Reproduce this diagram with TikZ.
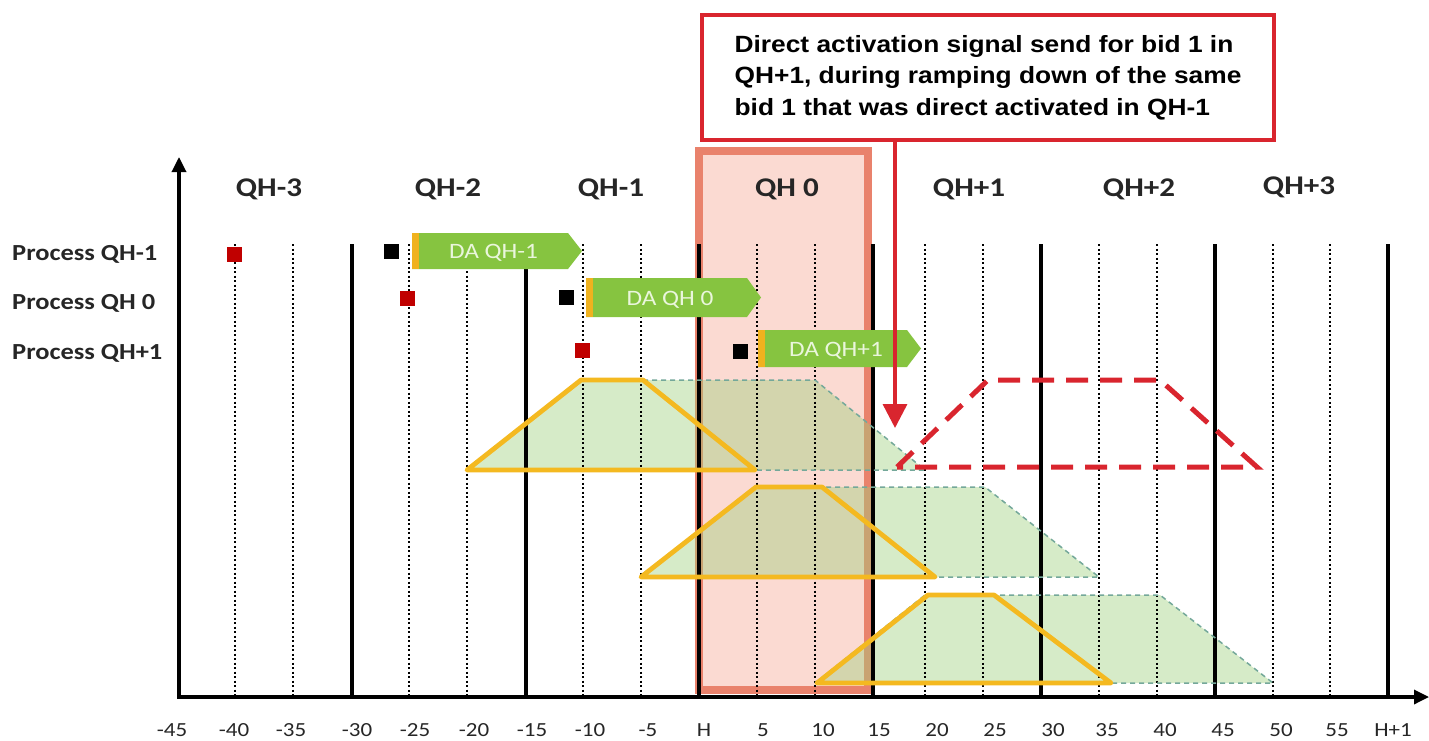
\documentclass[tikz,border=0pt]{standalone}
\usepackage{fontspec}
\setmainfont{Carlito}[FakeStretch=1.15]
\newfontfamily\calloutfont{Liberation Sans}[FakeStretch=1.12]
\usetikzlibrary{arrows.meta}

\definecolor{pinkfill}{HTML}{FBDAD2}
\definecolor{pinkedge}{HTML}{E9826C}
\definecolor{dagreen}{HTML}{86C440}
\definecolor{daorange}{HTML}{F0B21E}
\definecolor{datext}{HTML}{EAF6DC}
\definecolor{rampyellow}{HTML}{F4B920}
\definecolor{rampgreen}{HTML}{9ED07C}
\definecolor{rampedge}{HTML}{74A89A}
\definecolor{sigred}{HTML}{D9252E}
\definecolor{procred}{HTML}{C00000}
\definecolor{labgray}{HTML}{262626}

% green "direct activation" banner with an orange start strip
\newcommand\daarrow[6]{%
  \fill[dagreen] (#2,#4) -- (#3-14,#4) -- (#3,{(#4+#5)/2}) -- (#3-14,#5) -- (#2,#5) -- cycle;
  \fill[daorange] (#2,#4) rectangle (#2+7,#5);
  \node[dalab] (#1) at ({(#2+7+#3-14)/2},{(#4+#5)/2+7.5}) {#6};
}

\begin{document}
\begin{tikzpicture}[x=1pt,y=-1pt,
  gdot/.style={line width=2.6pt, dash pattern=on 2.4pt off 2.1pt, black},
  gsolid/.style={line width=3.3pt, black},
  axisline/.style={line width=3.3pt, black, -{Triangle[length=15pt,width=14pt]}},
  ramparea/.style={fill=rampgreen, fill opacity=0.42},
  rampoutline/.style={rampedge, line width=1.5pt, dash pattern=on 5pt off 4pt},
  ramp/.style={rampyellow, line width=4.8pt, line join=round},
  redramp/.style={sigred, line width=5pt, dash pattern=on 22pt off 12pt},
  sq/.style={minimum size=15pt, inner sep=0pt, draw=none},
  tick/.style={font=\fontsize{20}{21}\selectfont, text=labgray, anchor=base, inner sep=0pt},
  qh/.style={font=\bfseries\fontsize{27}{28}\selectfont, text=labgray, anchor=base, inner sep=0pt},
  rowlab/.style={font=\bfseries\fontsize{23}{24}\selectfont, text=labgray, anchor=base west, inner sep=0pt},
  dalab/.style={font=\fontsize{22}{23}\selectfont, text=datext, anchor=base, inner sep=0pt},
  note/.style={draw=sigred, line width=4pt, fill=white, anchor=north west,
    minimum width=572pt, minimum height=125pt, align=left,
    font=\calloutfont\bfseries\fontsize{23.5}{31.5}\selectfont, text=black},
]
\useasboundingbox (0,0) rectangle (1429,741);

% quarter hour under consideration
\draw[fill=pinkfill, draw=pinkedge, line width=8pt] (699,151) rectangle (868,690);

% available ramp areas of the bids
\fill[ramparea] (467,470) -- (583,380) -- (815,380) -- (925,470) -- cycle;
\fill[ramparea] (641,577) -- (757,487) -- (985,487) -- (1099,577) -- cycle;
\fill[ramparea] (815,683) -- (925,595) -- (1160,595) -- (1273,683) -- cycle;

% time grid, every five minutes
\foreach \x/\kind in {235/gdot, 293/gdot, 352/gsolid, 409/gdot, 467/gdot, 526/gsolid,
  583/gdot, 641/gdot, 699/gsolid, 757/gdot, 815/gdot, 873/gsolid, 925/gdot, 983/gdot,
  1041/gsolid, 1099/gdot, 1157/gdot, 1215/gsolid, 1273/gdot, 1330/gdot, 1388/gsolid}
  \draw[\kind] (\x,244) -- (\x,696);

% outlines of the ramp areas
\draw[rampoutline] (467,470) -- (583,380) -- (815,380) -- (925,470) -- cycle;
\draw[rampoutline] (641,577) -- (757,487) -- (985,487) -- (1099,577) -- cycle;
\draw[rampoutline] (815,683) -- (925,595) -- (1160,595) -- (1273,683) -- cycle;

% activated bids
\draw[ramp] (467,470) -- (581,380) -- (643,380) -- (755,470) -- cycle;
\draw[ramp] (641,577) -- (756,487) -- (822,487) -- (935,577) -- cycle;
\draw[ramp] (817,683) -- (928,595) -- (994,595) -- (1111,683) -- cycle;

% axes
\coordinate (origin) at (179,697);
\coordinate (yend) at (179,157);
\coordinate (xend) at (1429,697);
\draw[axisline] (origin) -- (yend);
\draw[axisline] ([xshift=-1.6pt]origin) -- (xend);

% process rows
\daarrow{daA}{412}{582}{233}{269}{DA QH-1}
\daarrow{daB}{586}{761}{278}{317}{DA QH 0}
\daarrow{daC}{758}{921}{330}{367}{DA QH+1}

\node[sq, fill=black] (bk1) at (391,251) {};
\node[sq, fill=black] (bk2) at (566,297) {};
\node[sq, fill=black] (bk3) at (740,351) {};
\node[sq, fill=procred] (rd1) at (234,254) {};
\node[sq, fill=procred] (rd2) at (407,298) {};
\node[sq, fill=procred] (rd3) at (582,350) {};

\node[rowlab] (row1) at (12,260) {Process QH-1};
\node[rowlab] (row2) at (12,309) {Process QH 0};
\node[rowlab] (row3) at (12,359) {Process QH+1};

% new activation of bid 1
\draw[redramp] (897,467) -- (988,380) -- (1160,380) -- (1257,467) -- cycle;

\node[note] (note) at (700,13) {Direct activation signal send for bid 1 in\\
QH+1, during ramping down of the same\\
bid 1 that was direct activated in QH-1};
\coordinate (hit) at (895,428);
\draw[sigred, line width=3.5pt, -{Triangle[length=24pt,width=24pt]}] (note.south -| hit) -- (hit);

% quarter hour labels
\foreach \lab/\x/\y [count=\i] in {QH-3/269/196, QH-2/448/196, QH-1/611/196, QH 0/787/196,
  QH+1/969/196, QH+2/1139/196, QH+3/1299/194}
  \node[qh] (qh\i) at (\x,\y) {\lab};

% minute labels
\foreach \lab/\x [count=\i] in {-45/172, -40/234, -35/291, -30/357, -25/415, -20/474,
  -15/532, -10/590, -5/648, H/704, 5/763, 10/823, 15/879, 20/937, 25/995, 30/1053,
  35/1107, 40/1165, 45/1223, 50/1281, 55/1337, H+1/1393}
  \node[tick] (tk\i) at (\x,736) {\lab};
\end{tikzpicture}
\end{document}
